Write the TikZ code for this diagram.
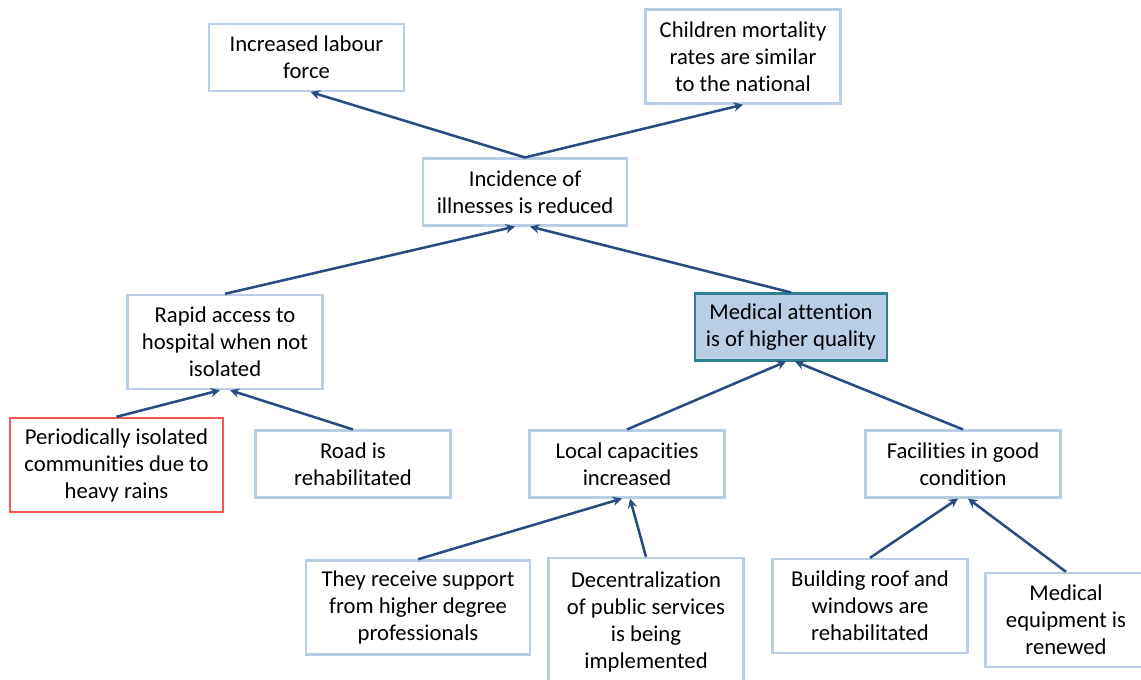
\documentclass[tikz,border=0pt]{standalone}
\usepackage{fontspec}
\setmainfont{Carlito}[Ligatures=NoCommon]
\usetikzlibrary{arrows.meta}

\definecolor{boxline}{RGB}{185,205,229}
\definecolor{goalfill}{RGB}{185,205,229}
\definecolor{goalline}{RGB}{49,128,148}
\definecolor{probline}{RGB}{250,85,85}
\definecolor{linkblue}{RGB}{40,76,130}

\begin{document}
\begin{tikzpicture}[x=0.75pt,y=-0.75pt]

% Define styles
\tikzstyle{box}=[draw=boxline, line width=1.8pt, fill=white, align=center, inner sep=2pt, minimum width=146pt, minimum height=50pt, font=\fontsize{17}{20.25}\selectfont]
\tikzstyle{goal}=[box, draw=goalline, fill=goalfill]
\tikzstyle{problem}=[box, draw=probline]
\tikzstyle{link}=[draw=linkblue, line width=1.9pt, -{Stealth[length=7pt,width=7pt]}]

% Canvas
\useasboundingbox (0,0) rectangle (1141,679);
\clip (0,0) rectangle (1141,679);

% Ends
\node[box] (lab) at (306.5,57.5) {Increased labour\\force};
\node[box, minimum height=70.5pt] (child) at (743,56.5) {Children mortality\\rates are similar\\to the national};

% Purpose
\node[box, minimum width=153pt] (inc) at (525,192) {Incidence of\\illnesses is reduced};

% Components
\node[box, minimum height=70.5pt] (rapid) at (225,342) {Rapid access to\\hospital when not\\isolated};
\node[goal, minimum width=144pt] (med) at (791,327) {Medical attention\\is of higher quality};

% Activities and causes
\node[problem, minimum width=160pt, minimum height=70.5pt] (per) at (116.5,465) {Periodically isolated\\communities due to\\heavy rains};
\node[box] (road) at (353,464) {Road is\\rehabilitated};
\node[box] (local) at (627,464) {Local capacities\\increased};
\node[box] (fac) at (963,464) {Facilities in good\\condition};

\node[box, minimum width=168pt, minimum height=70.5pt] (they) at (418,607.5) {They receive support\\from higher degree\\professionals};
\node[box, minimum height=96pt] (dec) at (646,622) {Decentralization\\of public services\\is being\\implemented};
\node[box, minimum height=70.5pt] (bld) at (870,606) {Building roof and\\windows are\\rehabilitated};
\node[box, minimum width=121pt, minimum height=70.5pt] (equip) at (1066,620) {Medical\\equipment is\\renewed};

% Links
\foreach \from/\to/\dx in {inc/lab/3, inc/child/0, rapid/inc/-7.5, med/inc/3.75, per/rapid/-3.75, road/rapid/3.75, local/med/-3.75, fac/med/3, they/local/-3.75, dec/local/2.25, bld/fac/-3.75, equip/fac/3.75} {
  \draw[link] (\from.north) -- ([xshift=\dx pt]\to.south);
}

\end{tikzpicture}
\end{document}
